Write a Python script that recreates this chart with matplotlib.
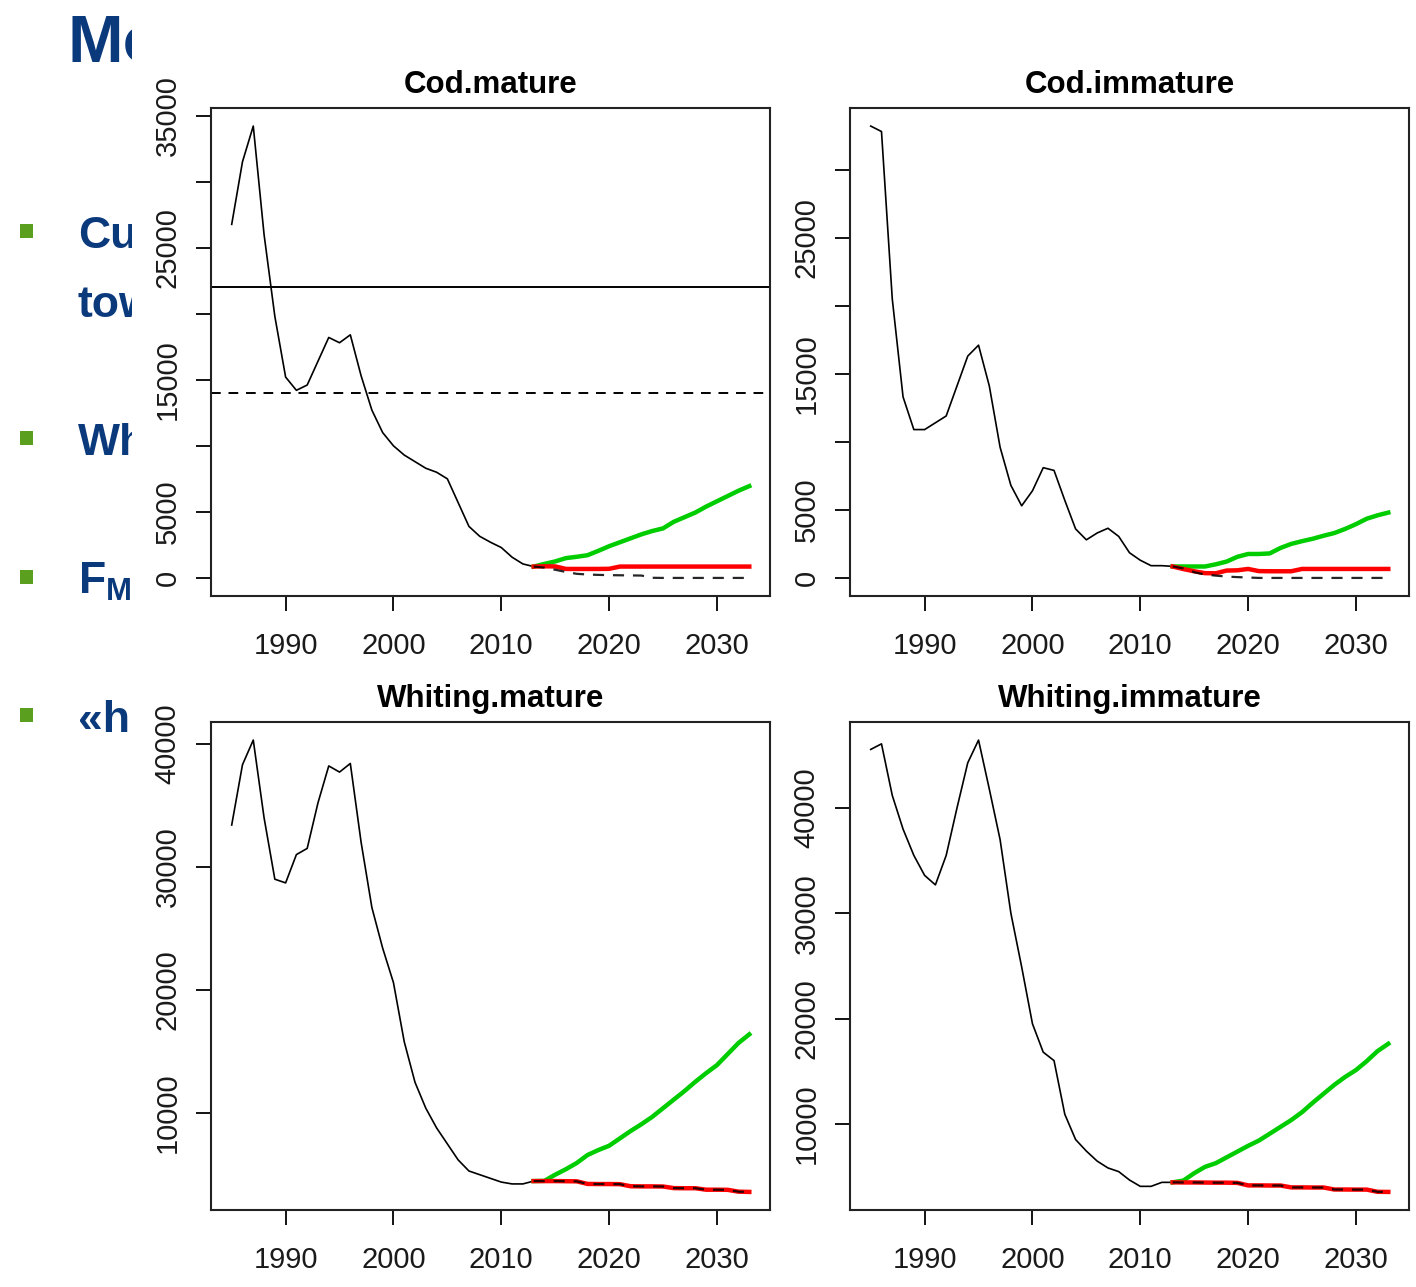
import matplotlib
matplotlib.use("Agg")
import matplotlib.pyplot as plt
from matplotlib.patches import Rectangle

# ---- data ----
hist_years = list(range(1985, 2014))
proj_years = list(range(2013, 2034))

cod_mat_hist = [26760, 31500, 34200, 26000, 19800, 15200, 14200, 14600, 16400, 18200,
                17800, 18400, 15300, 12700, 11000, 10000, 9300, 8800, 8300, 8000,
                7500, 5700, 3900, 3150, 2700, 2300, 1570, 1060, 860]
cod_mat_green = [860, 1060, 1250, 1500, 1600, 1720, 2050, 2400, 2700, 3000, 3300,
                 3550, 3750, 4250, 4600, 4950, 5400, 5800, 6200, 6600, 6950]
cod_mat_red = [860, 880, 870, 680, 680, 680, 680, 690, 860, 860, 860,
               860, 860, 860, 860, 860, 860, 860, 860, 860, 860]
cod_mat_dash = [860, 780, 620, 450, 310, 260, 230, 210, 200, 190, 180,
                10, 0, 0, 0, 0, 0, 0, 0, 0, 0]
cod_mat_ref = [22000, 14000]

cod_imm_hist = [33200, 32800, 20500, 13300, 10900, 10900, 11400, 11900, 14100, 16300,
                17100, 14100, 9600, 6800, 5300, 6400, 8100, 7900, 5700, 3600,
                2800, 3300, 3650, 3050, 1850, 1300, 900, 900, 850]
cod_imm_green = [840, 840, 840, 840, 1000, 1200, 1550, 1760, 1760, 1800, 2200,
                 2500, 2700, 2880, 3100, 3300, 3600, 3950, 4350, 4600, 4800]
cod_imm_red = [840, 650, 490, 350, 340, 540, 560, 660, 500, 490, 490,
               490, 660, 660, 660, 660, 660, 660, 660, 660, 660]
cod_imm_dash = [840, 700, 420, 250, 170, 100, 60, 30, 0, 0, 0,
                0, 0, 0, 0, 0, 0, 0, 0, 0, 0]

wh_mat_hist = [33400, 38300, 40300, 34000, 29000, 28700, 31000, 31500, 35200, 38200,
               37700, 38400, 32000, 26700, 23400, 20600, 15800, 12500, 10400, 8800,
               7500, 6200, 5300, 5000, 4700, 4400, 4250, 4250, 4480]
wh_mat_green = [4480, 4500, 5000, 5450, 5950, 6600, 7000, 7350, 7950, 8550, 9100,
                9700, 10400, 11100, 11800, 12550, 13250, 13900, 14800, 15700, 16400]
wh_mat_red = [4480, 4480, 4480, 4470, 4460, 4250, 4240, 4240, 4230, 4060, 4050,
              4050, 4040, 3910, 3900, 3900, 3780, 3780, 3770, 3620, 3600]

wh_imm_hist = [45570, 46100, 41200, 38000, 35500, 33600, 32700, 35500, 40000, 44300,
               46460, 41800, 37000, 30000, 24900, 19500, 16800, 16000, 10900, 8500,
               7400, 6450, 5800, 5450, 4650, 4050, 4050, 4430, 4430]
wh_imm_green = [4430, 4600, 5300, 5900, 6250, 6800, 7350, 7900, 8400, 9050, 9700,
                10350, 11100, 12000, 12850, 13700, 14450, 15100, 15950, 16900, 17600]
wh_imm_red = [4430, 4420, 4420, 4410, 4400, 4400, 4380, 4140, 4140, 4130, 4130,
              3950, 3950, 3940, 3940, 3750, 3750, 3740, 3740, 3530, 3520]

titles = ["Cod.mature", "Cod.immature", "Whiting.mature", "Whiting.immature"]
x_ticks = [1990, 2000, 2010, 2020, 2030]

# y ticks and which ones R left labelled
y_ticks = [list(range(0, 35001, 5000)), list(range(0, 30001, 5000)),
           [10000, 20000, 30000, 40000], [10000, 20000, 30000, 40000]]
y_labels = [["0", "5000", "", "15000", "", "25000", "", "35000"],
            ["0", "5000", "", "15000", "", "25000", ""],
            ["10000", "20000", "30000", "40000"],
            ["10000", "20000", "30000", "40000"]]

panels = [
    (cod_mat_hist, cod_mat_green, cod_mat_red, cod_mat_dash),
    (cod_imm_hist, cod_imm_green, cod_imm_red, cod_imm_dash),
    (wh_mat_hist, wh_mat_green, wh_mat_red, wh_mat_red),
    (wh_imm_hist, wh_imm_green, wh_imm_red, wh_imm_red),
]

W, H = 1416, 1287
boxes = [(211, 108), (850, 108), (211, 722), (850, 722)]  # left, top in px
bw, bh = 559, 488

navy = "#0b3a7c"
bullet_green = "#5aa01e"
tick_font = ["Liberation Sans Narrow", "Liberation Sans"]

fig = plt.figure(figsize=(W / 100, H / 100), dpi=100)

# slide text behind the pasted chart
fig.text(68 / W, 1 - 62 / H, "Mod", color=navy, fontsize=48, fontweight="bold",
         family="Liberation Sans", zorder=1)
bullet_rows = [(231, 248, "Cur"), (438, 455, "Wh"), (577, 594, "F$_{\\mathregular{MS}}$"),
               (715, 732, "«h")]
for yb, ybase, txt in bullet_rows:
    fig.add_artist(Rectangle((20 / W, 1 - (yb + 7) / H), 13 / W, 14 / H,
                             transform=fig.transFigure, facecolor=bullet_green,
                             edgecolor="none", zorder=1))
    fig.text(78 / W, 1 - ybase / H, txt, color=navy, fontsize=32, fontweight="bold",
             family="Liberation Sans", zorder=1)
fig.text(78 / W, 1 - 317 / H, "tow", color=navy, fontsize=32, fontweight="bold",
         family="Liberation Sans", zorder=1)

# white background of the chart image covering the slide
fig.add_artist(Rectangle((132 / W, 0), 1, 1, transform=fig.transFigure,
                         facecolor="white", edgecolor="none", zorder=2))

for i, (hist, green, red, dash) in enumerate(panels):
    left, top = boxes[i]
    ax = fig.add_axes([left / W, 1 - (top + bh) / H, bw / W, bh / H])
    ax.set_zorder(5)

    ax.plot(hist_years, hist, color="black", lw=1.2)
    ax.plot(proj_years, green, color="#00cd00", lw=3.2)
    ax.plot(proj_years, red, color="#ff0000", lw=3.2)
    ax.plot(proj_years, dash, color="black", lw=1.6, dashes=(5, 4), alpha=0.85)
    if i == 0:
        ax.axhline(cod_mat_ref[0], color="black", lw=1.4)
        ax.axhline(cod_mat_ref[1], color="black", lw=1.4, dashes=(5, 4))

    allv = hist + green + red + dash
    lo, hi = min(allv), max(allv)
    pad = 0.04 * (hi - lo)
    ax.set_ylim(lo - pad, hi + pad)
    x0, x1 = hist_years[0], proj_years[-1]
    xp = 0.04 * (x1 - x0)
    ax.set_xlim(x0 - xp, x1 + xp)

    ax.set_xticks(x_ticks)
    ax.set_xticklabels([str(t) for t in x_ticks], family=tick_font, fontsize=21,
                       color="#1a1a1a")
    ax.set_yticks(y_ticks[i])
    ax.set_yticklabels(y_labels[i], family=tick_font, fontsize=21, rotation=90,
                       va="center", color="#1a1a1a")
    ax.tick_params(axis="both", direction="out", length=11, width=1.3)
    ax.tick_params(axis="x", pad=15)
    ax.tick_params(axis="y", pad=10)
    for s in ax.spines.values():
        s.set_linewidth(1.5)
        s.set_color("#222222")
    ax.set_title(titles[i], fontsize=22.5, fontweight="bold", family="Liberation Sans",
                 pad=11)

fig.savefig("out.png", dpi=100)
